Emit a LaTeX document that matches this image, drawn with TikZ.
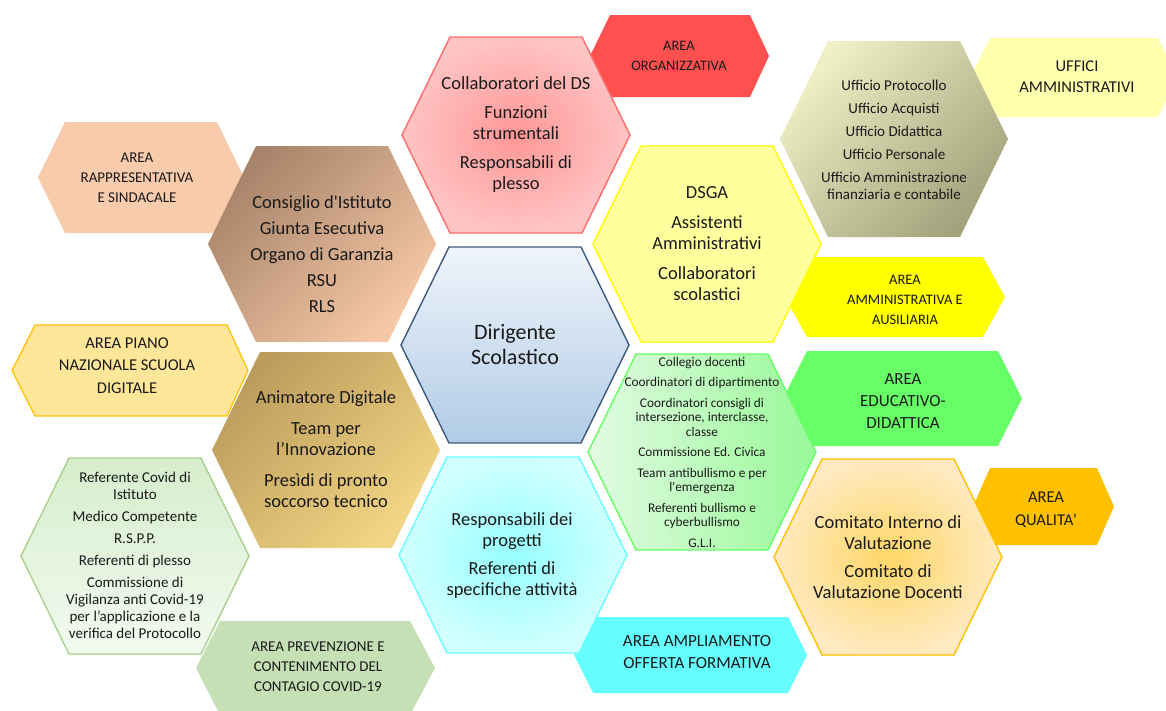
\documentclass[tikz,border=0pt]{standalone}
\usepackage{fontspec}
\setmainfont{Carlito}
\newfontfamily\straightap{Carlito}[Ligatures=TeXOff]
\newcommand{\sap}{{\straightap'}}
\definecolor{txtcol}{HTML}{1A1A1A}
\definecolor{areaRed}{HTML}{FF5050}
\definecolor{areaUff}{HTML}{FFFFAD}
\definecolor{areaPeach}{HTML}{F8CBAD}
\definecolor{areaPnsdFill}{HTML}{FFE699}
\definecolor{areaPnsdLine}{HTML}{FFC000}
\definecolor{areaYel}{HTML}{FFFF00}
\definecolor{areaGreen}{HTML}{66FF66}
\definecolor{areaOrange}{HTML}{FFC000}
\definecolor{areaCyan}{HTML}{66FFFF}
\definecolor{areaSage}{HTML}{C5E0B4}
\definecolor{redIn}{HTML}{FF9696}
\definecolor{redOut}{HTML}{FFC4C4}
\definecolor{redLine}{HTML}{FF6B6B}
\definecolor{brownA}{HTML}{A8846A}
\definecolor{brownB}{HTML}{F6C8A6}
\definecolor{oliveA}{HTML}{F0F0C6}
\definecolor{oliveB}{HTML}{A2A27C}
\definecolor{dsgaFill}{HTML}{FFFF9E}
\definecolor{dirTop}{HTML}{EFF4FB}
\definecolor{dirBot}{HTML}{B1CBE6}
\definecolor{dirLine}{HTML}{3C5A7D}
\definecolor{goldA}{HTML}{BC9C5C}
\definecolor{goldB}{HTML}{F3D685}
\definecolor{grnA}{HTML}{E2FBE2}
\definecolor{grnB}{HTML}{98F998}
\definecolor{cyanIn}{HTML}{96FFFF}
\definecolor{cyanOut}{HTML}{D2FFFF}
\definecolor{orgIn}{HTML}{FFD766}
\definecolor{orgOut}{HTML}{FFE9C0}
\definecolor{covTop}{HTML}{D5EECC}
\definecolor{covBot}{HTML}{F3FAF0}
\definecolor{covLine}{HTML}{A9D08E}
\newcommand{\hexshape}[7]{\path[#1] (#2,{(#6+#7)/2}) -- (#3,#6) -- (#4,#6) -- (#5,{(#6+#7)/2}) -- (#4,#7) -- (#3,#7) -- cycle;}
\newcommand{\bighex}[3]{\hexshape{#1}{#2-114}{#2-66}{#2+66}{#2+114}{#3-98}{#3+98}}
\tikzset{
  txt/.style={align=center, inner sep=0pt, text=txtcol},
  bigtxt/.style={txt, font=\fontsize{18.5}{21}\selectfont},
  smalltxt/.style={txt, font=\fontsize{13.3}{14.5}\selectfont},
  midtxt/.style={txt, font=\fontsize{15}{17}\selectfont},
  areatxt/.style 2 args={txt, font=\fontsize{#1}{#2}\selectfont},
  hexline/.style={line width=1.4pt},
}
\begin{document}
\begin{tikzpicture}[x=1pt,y=-1pt]
\useasboundingbox (0,0) rectangle (1166,710);
\clip (0,0) rectangle (1166,710);
% ---- area labels (behind) ----
\hexshape{fill=areaRed}{590}{610}{750}{769}{15}{97}
\hexshape{fill=areaUff}{970}{990}{1158}{1178}{38}{117}
\hexshape{fill=areaPeach}{38}{65}{217}{244}{122}{233}
\hexshape{fill=areaPnsdFill, draw=areaPnsdLine, line width=1.2pt}{12}{35}{227}{248}{325}{416}
\hexshape{fill=areaYel}{785}{807}{983}{1005}{257}{337}
\hexshape{fill=areaGreen}{783}{807}{998}{1022}{351}{446}
\hexshape{fill=areaOrange}{973}{990}{1097}{1114}{468}{545}
\hexshape{fill=areaCyan}{574}{593}{788}{807}{617}{693}
\hexshape{fill=areaSage}{196}{220}{410}{435}{621}{715}
% ---- big hexagons ----
\bighex{inner color=redIn, outer color=redOut, draw=redLine, hexline}{516}{135}
\bighex{top color=brownA, bottom color=brownB, shading angle=45}{322}{244}
\bighex{top color=oliveA, bottom color=oliveB, shading angle=45}{894}{139}
\bighex{fill=dsgaFill, draw=areaYel, hexline}{707}{244}
\bighex{top color=dirTop, bottom color=dirBot, draw=dirLine, hexline}{515}{345}
\bighex{top color=goldA, bottom color=goldB, shading angle=45}{326}{450}
\bighex{left color=grnA, right color=grnB, draw=areaGreen, hexline}{702}{452}
\bighex{inner color=cyanIn, outer color=cyanOut, draw=areaCyan, hexline}{513}{555}
\bighex{inner color=orgIn, outer color=orgOut, draw=areaOrange, hexline}{888}{557}
\bighex{top color=covTop, bottom color=covBot, draw=covLine, hexline}{135}{556}
% ---- texts of big hexagons ----
\node[bigtxt] (collab) at (516,135) {Collaboratori del DS\\[8pt]Funzioni\\strumentali\\[8pt]Responsabili di\\plesso};
\node[bigtxt] (consiglio) at (322,254.5) {Consiglio d\sap Istituto\\[5pt]Giunta Esecutiva\\[5pt]Organo di Garanzia\\[5pt]RSU\\[5pt]RLS};
\node[bigtxt] (dsga) at (707,243.5) {DSGA\\[9pt]Assistenti\\Amministrativi\\[9pt]Collaboratori\\scolastici};
\node[txt, font=\fontsize{22}{25}\selectfont] (dirigente) at (515,345) {Dirigente\\Scolastico};
\node[bigtxt] (animatore) at (326,449.5) {Animatore Digitale\\[10pt]Team per\\l’Innovazione\\[10pt]Presìdi di pronto\\soccorso tecnico};
\node[smalltxt] (collegio) at (702,452) {Collegio docenti\\[6pt]Coordinatori di dipartimento\\[6pt]Coordinatori consigli di\\intersezione, interclasse,\\classe\\[6pt]Commissione Ed. Civica\\[6pt]Team antibullismo e per\\l\sap emergenza\\[6pt]Referenti bullismo e\\cyberbullismo\\[6pt]G.L.I.};
\node[bigtxt] (progetti) at (512,556) {Responsabili dei\\progetti\\[7pt]Referenti di\\specifiche attività};
\node[bigtxt] (comitato) at (888,557) {Comitato Interno di\\Valutazione\\[7pt]Comitato di\\Valutazione Docenti};
\node[midtxt] (uffici) at (894,140) {Ufficio Protocollo\\[6pt]Ufficio Acquisti\\[6pt]Ufficio Didattica\\[6pt]Ufficio Personale\\[6pt]Ufficio Amministrazione\\finanziaria e contabile};
\node[midtxt] (covid) at (135,555.5) {Referente Covid di\\Istituto\\[5pt]Medico Competente\\[5pt]R.S.P.P.\\[5pt]Referenti di plesso\\[5pt]Commissione di\\Vigilanza anti Covid-19\\per l’applicazione e la\\verifica del Protocollo};
% ---- area texts ----
\node[areatxt={14.5}{20}] (aorg) at (679,56) {AREA\\ORGANIZZATIVA};
\node[areatxt={16.5}{21}] (auff) at (1077,76.5) {UFFICI\\AMMINISTRATIVI};
\node[areatxt={15}{20}] (arapp) at (137,178) {AREA\\RAPPRESENTATIVA\\E SINDACALE};
\node[areatxt={16.5}{22.5}] (apnsd) at (127,365.5) {AREA PIANO\\NAZIONALE SCUOLA\\DIGITALE};
\node[areatxt={14.5}{20}] (aamm) at (905,300) {AREA\\AMMINISTRATIVA E\\AUSILIARIA};
\node[areatxt={17}{22}] (aedu) at (903,401) {AREA\\EDUCATIVO-\\DIDATTICA};
\node[areatxt={16.5}{23}] (aqual) at (1046,509.5) {AREA\\QUALITA’};
\node[areatxt={17}{22}] (aampl) at (697,652) {AREA AMPLIAMENTO\\OFFERTA FORMATIVA};
\node[areatxt={15}{20}] (aprev) at (318,667) {AREA PREVENZIONE E\\CONTENIMENTO DEL\\CONTAGIO COVID-19};
\end{tikzpicture}
\end{document}
